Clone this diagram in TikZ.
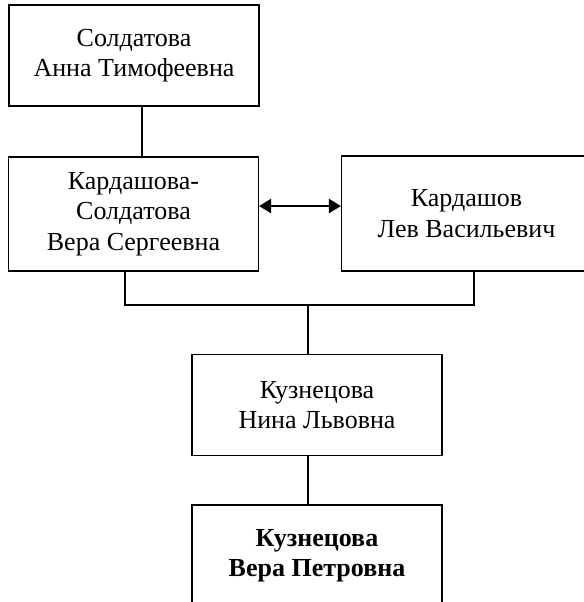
\documentclass[tikz,border=0pt]{standalone}
\usepackage{fontspec}
\setmainfont{Liberation Serif}
\usetikzlibrary{arrows.meta}

\begin{document}
\begin{tikzpicture}[x=0.5pt, y=-0.5pt,
    person/.style={rectangle, draw, line width=0.6pt,
                   minimum width=125pt, minimum height=50.5pt, inner sep=0pt,
                   align=center, font=\fontsize{13}{15.2}\selectfont},
    link/.style={line width=0.6pt},
    marr/.style={{Triangle[length=6pt,width=7pt]}-{Triangle[length=6pt,width=7pt]},
                 line width=1.2pt}
  ]
  \useasboundingbox (0,0) rectangle (584,602);
  \clip (0,0) rectangle (584,602);

  \node[person] (anna) at (134,55.5) {Солдатова\\Анна Тимофеевна};
  \node[person, minimum height=57pt] (vera) at (133.5,214) {Кардашова-\\Солдатова\\Вера Сергеевна};
  \node[person, minimum height=57.5pt] (lev) at (466.5,213.5) {Кардашов\\Лев Васильевич};
  \node[person] (nina) at (317,405) {Кузнецова\\Нина Львовна};
  \node[person, font=\fontsize{13}{15.2}\selectfont\bfseries] (verap) at (317,555.5)
    {Кузнецова\\Вера Петровна};

  \draw[link] (anna.south -| 142,0) -- (vera.north -| 142,0);
  \draw[marr] (vera.east |- 0,206) -- (lev.west |- 0,206);

  \coordinate (fork) at (308,305);
  \draw[link] (vera.south -| 125,0) |- (fork) -| (lev.south -| 474,0);
  \draw[link] (fork) -- (nina.north -| fork);
  \draw[link] (nina.south -| fork) -- (verap.north -| fork);
\end{tikzpicture}
\end{document}
